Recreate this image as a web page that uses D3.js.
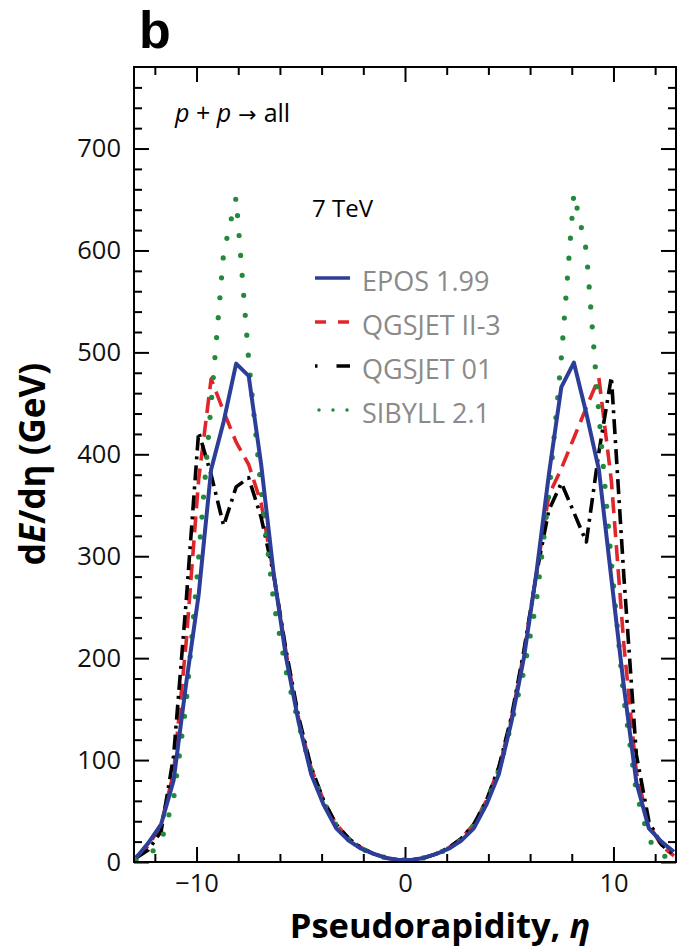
<!DOCTYPE html>
<html><head><meta charset="utf-8">
<script src="https://cdn.jsdelivr.net/npm/d3@7"></script>
<style>body{margin:0;background:#fff} svg{display:block}</style>
</head><body><svg id="c" width="683" height="951"></svg>
<script>
// ---- data ----
const eta = [-12.9,-12.3,-11.7,-11.1,-10.5,-9.9,-9.3,-8.7,-8.1,-7.5,-6.9,-6.3,-5.7,-5.1,-4.5,-3.9,-3.3,-2.7,-2.1,-1.5,-0.9,-0.3,
             0.3,0.9,1.5,2.1,2.7,3.3,3.9,4.5,5.1,5.7,6.3,6.9,7.5,8.1,8.7,9.3,9.9,10.5,11.1,11.7,12.3,12.9];
const epos     = [4,19,37,80,175,262,385,432,489,477,390,283,200,137,86,56,33,21,13,8,4,2,
                  2,4,8,13,21,33,56,86,137,200,283,380,466,490,440,385,278,172,78,33,20,10];
const qgsjet2  = [5,16,37,88,215,375,474,442,412,390,352,282,205,140,92,60,37,23,14,8,4,2,
                  2,4,8,14,23,37,60,92,140,205,282,360,386,416,446,475,374,213,88,37,16,6];
const qgsjet01 = [4,12,30,104,255,422,380,330,368,377,338,282,207,142,93,60,37,23,14,8,4,2,
                  2,4,8,14,23,37,60,93,142,207,282,345,372,343,314,402,476,280,105,40,17,7];
const sibyll   = [2,6,20,62,155,298,450,598,652,493,365,255,187,135,90,58,36,22,13,8,4,2,
                  2,4,8,13,22,36,58,90,135,187,255,360,495,656,600,440,294,160,68,22,7,2];
const seriesNames = ["EPOS 1.99","QGSJET II-3","QGSJET 01","SIBYLL 2.1"];
const xMajor = [-10,0,10];
const xMinor = [-12,-8,-6,-4,-2,2,4,6,8,12];
const yMajor = [0,100,200,300,400,500,600,700];
const yMinor = [20,40,60,80,120,140,160,180,220,240,260,280,320,340,360,380,420,440,460,480,
                520,540,560,580,620,640,660,680,720,740,760];

// ---- layout ----
const svg = d3.select("#c");
const FONT = "'Open Sans', 'Noto Sans', sans-serif";
const L=134, R=676, T=67, B=862;
const x = d3.scaleLinear().domain([-13,13]).range([L,R]);
const y = d3.scaleLinear().domain([0,780]).range([B,T]);

function styleAxis(g){
  g.select(".domain").remove();
  g.selectAll(".tick line").attr("stroke","#000").attr("stroke-width",2);
  g.selectAll("text").attr("font-family",FONT).attr("font-size",25.5).attr("fill","#111");
}
const fmt = d => d<0 ? "\u2212"+Math.abs(d) : String(d);
// bottom
svg.append("g").attr("transform",`translate(0,${B})`)
  .call(d3.axisBottom(x).tickValues(xMajor).tickSize(-15).tickPadding(12).tickFormat(fmt)).call(styleAxis);
svg.append("g").attr("transform",`translate(0,${B})`)
  .call(d3.axisBottom(x).tickValues(xMinor).tickSize(-8).tickFormat("")).call(styleAxis);
// top
svg.append("g").attr("transform",`translate(0,${T})`)
  .call(d3.axisTop(x).tickValues(xMajor).tickSize(-15).tickFormat("")).call(styleAxis);
svg.append("g").attr("transform",`translate(0,${T})`)
  .call(d3.axisTop(x).tickValues(xMinor).tickSize(-8).tickFormat("")).call(styleAxis);
// left
svg.append("g").attr("transform",`translate(${L},0)`)
  .call(d3.axisLeft(y).tickValues(yMajor).tickSize(-15).tickPadding(13)).call(styleAxis);
svg.append("g").attr("transform",`translate(${L},0)`)
  .call(d3.axisLeft(y).tickValues(yMinor).tickSize(-8).tickFormat("")).call(styleAxis);
// right
svg.append("g").attr("transform",`translate(${R},0)`)
  .call(d3.axisRight(y).tickValues(yMajor).tickSize(-15).tickFormat("")).call(styleAxis);
svg.append("g").attr("transform",`translate(${R},0)`)
  .call(d3.axisRight(y).tickValues(yMinor).tickSize(-8).tickFormat("")).call(styleAxis);

// clip
svg.append("clipPath").attr("id","clip").append("rect").attr("x",L).attr("y",T).attr("width",R-L).attr("height",B-T);

const line = d3.line().x((d,i)=>x(eta[i])).y(d=>y(d));
const styles = [
  {data:qgsjet2,  color:"#e1262b", w:3.6, dash:"16,8", cap:"butt"},
  {data:qgsjet01, color:"#000000", w:3.6, dash:"15,6,3,6", cap:"butt"},
  {data:sibyll,   color:"#238a3c", w:5.2, dash:"0,20", cap:"round"},
  {data:epos,     color:"#2c3e98", w:4,   dash:null, cap:"butt"}
];
const plot = svg.append("g").attr("clip-path","url(#clip)");
styles.forEach(s=>{
  plot.append("path").datum(s.data).attr("d",line)
    .attr("fill","none").attr("stroke",s.color).attr("stroke-width",s.w)
    .attr("stroke-dasharray",s.dash).attr("stroke-linecap",s.cap).attr("stroke-linejoin","round");
});

// frame
svg.append("rect").attr("x",L).attr("y",T).attr("width",R-L).attr("height",B-T)
  .attr("fill","none").attr("stroke","#000").attr("stroke-width",2);

// panel letter
svg.append("text").attr("x",139).attr("y",48).attr("font-family","'Liberation Sans', Arial, sans-serif")
  .attr("font-weight",700).attr("font-size",52).text("b");

// reaction label
const rl = svg.append("text").attr("x",175).attr("y",122).attr("font-family",FONT).attr("font-size",25);
rl.append("tspan").attr("font-style","italic").text("p");
rl.append("tspan").text(" + ");
rl.append("tspan").attr("font-style","italic").text("p");
rl.append("tspan").attr("font-family","'DejaVu Sans', sans-serif").attr("font-size",22).text(" \u2192 ");
rl.append("tspan").text("all");

svg.append("text").attr("x",312).attr("y",217).attr("font-family",FONT).attr("font-size",24).text("7 TeV");

// legend
const legY = [278, 322, 366, 410];
const legStyle = [
  {color:"#2c3e98", w:3.5, dash:null, cap:"butt", x1:315, x2:350},
  {color:"#e1262b", w:3.5, dash:"11,12", cap:"butt", x1:315, x2:350},
  {color:"#000000", w:3.5, dash:"2.5,19,14", cap:"butt", x1:315, x2:350},
  {color:"#238a3c", w:3.5, dash:"0,14", cap:"round", x1:319, x2:348}
];
seriesNames.forEach((n,i)=>{
  const s = legStyle[i];
  svg.append("line").attr("x1",s.x1).attr("x2",s.x2).attr("y1",legY[i]).attr("y2",legY[i])
    .attr("stroke",s.color).attr("stroke-width",s.w).attr("stroke-dasharray",s.dash).attr("stroke-linecap",s.cap);
  svg.append("text").attr("x",362).attr("y",legY[i]+13).attr("font-family",FONT).attr("font-size",27)
    .attr("fill","#8a8a8a").text(n);
});

// axis titles
const yl = svg.append("text").attr("transform","translate(45,464) rotate(-90)").attr("text-anchor","middle")
  .attr("font-family",FONT).attr("font-weight",700).attr("font-size",35);
yl.append("tspan").text("d");
yl.append("tspan").attr("font-style","italic").text("E");
yl.append("tspan").text("/d\u03b7 (GeV)");

const xl = svg.append("text").attr("x",440).attr("y",938).attr("text-anchor","middle")
  .attr("font-family",FONT).attr("font-weight",700).attr("font-size",34.5);
xl.append("tspan").text("Pseudorapidity, ");
xl.append("tspan").attr("font-style","italic").text("\u03b7");
</script></body></html>
